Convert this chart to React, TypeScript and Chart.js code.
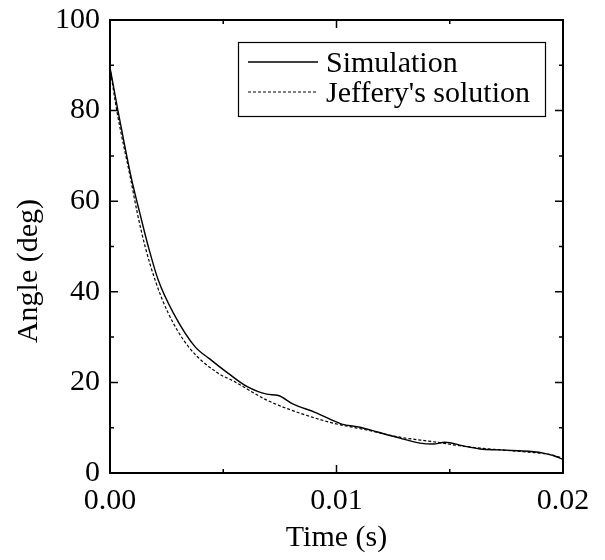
import React, { useEffect, useRef } from "react";
import { Chart, registerables } from "chart.js";

Chart.register(...registerables);

const simTime = [0, 0.00035, 0.0007, 0.00096, 0.00132, 0.00169, 0.00213, 0.0028, 0.00375, 0.0044, 0.00522, 0.00604, 0.00692, 0.00743, 0.00809, 0.00905, 0.01023, 0.01104, 0.01177, 0.0128, 0.01369, 0.01427, 0.01479, 0.0156, 0.01634, 0.01722, 0.018, 0.0187, 0.01913, 0.0196, 0.02];
const simAngle = [89.5, 80, 71, 64.7, 57.3, 50.0, 42.6, 35.3, 27.9, 25.2, 22.0, 19.1, 17.4, 17.1, 15.2, 13.4, 10.8, 10.1, 9.1, 7.7, 6.6, 6.4, 6.8, 6.0, 5.3, 5.1, 4.9, 4.7, 4.4, 3.8, 3.0];

const jefTime = [0, 0.0003, 0.00092, 0.00121, 0.00155, 0.00199, 0.00257, 0.00346, 0.00478, 0.00545, 0.00692, 0.00839, 0.00986, 0.01133, 0.0128, 0.01427, 0.01575, 0.01722, 0.0185, 0.0193, 0.02];
const jefAngle = [89.5, 80, 64.7, 57.3, 50.0, 42.6, 35.3, 27.9, 22.0, 20.3, 16.1, 13.2, 11.0, 9.5, 7.9, 6.9, 5.8, 5.1, 4.6, 4.2, 3.3];

const seriesLabels = ["Simulation", "Jeffery's solution"];
const xTickValues = [0, 0.01, 0.02];
const yTickValues = [0, 20, 40, 60, 80, 100];
const xTitle = "Time (s)";
const yTitle = "Angle (deg)";

const FONT = "'Liberation Serif', 'Times New Roman', serif";

const framePlugin = {
  id: "frameTicks",
  afterDraw(chart: any) {
    const { ctx, chartArea } = chart;
    const xs = chart.scales.x;
    const ys = chart.scales.y;
    const { left, right, top, bottom } = chartArea;
    ctx.save();
    ctx.strokeStyle = "#000";
    ctx.lineWidth = 2;
    ctx.strokeRect(left, top, right - left, bottom - top);
    ctx.lineWidth = 1.5;
    const major = 8;
    const minor = 4;
    const drawX = (v: number, len: number) => {
      const px = xs.getPixelForValue(v);
      ctx.beginPath();
      ctx.moveTo(px, bottom);
      ctx.lineTo(px, bottom - len);
      ctx.moveTo(px, top);
      ctx.lineTo(px, top + len);
      ctx.stroke();
    };
    const drawY = (v: number, len: number) => {
      const py = ys.getPixelForValue(v);
      ctx.beginPath();
      ctx.moveTo(left, py);
      ctx.lineTo(left + len, py);
      ctx.moveTo(right, py);
      ctx.lineTo(right - len, py);
      ctx.stroke();
    };
    for (let i = 0; i < xTickValues.length; i++) {
      drawX(xTickValues[i], major);
      if (i < xTickValues.length - 1) drawX((xTickValues[i] + xTickValues[i + 1]) / 2, minor);
    }
    for (let i = 0; i < yTickValues.length; i++) {
      drawY(yTickValues[i], major);
      if (i < yTickValues.length - 1) drawY((yTickValues[i] + yTickValues[i + 1]) / 2, minor);
    }

    // y axis title
    ctx.save();
    ctx.translate(29, 271);
    ctx.rotate(-Math.PI / 2);
    ctx.fillStyle = "#000";
    ctx.font = `30px ${FONT}`;
    ctx.textAlign = "center";
    ctx.textBaseline = "middle";
    ctx.fillText(yTitle, 0, 0);
    ctx.restore();

    // legend
    const bx = 238, by = 42, bw = 307, bh = 74;
    ctx.lineWidth = 1.2;
    ctx.strokeStyle = "#000";
    ctx.fillStyle = "#fff";
    ctx.fillRect(bx, by, bw, bh);
    ctx.strokeRect(bx + 0.5, by + 0.5, bw, bh);
    chart.data.datasets.forEach((ds: any, i: number) => {
      const ly = by + 20 + i * 30;
      ctx.beginPath();
      ctx.setLineDash(ds.borderDash || []);
      ctx.lineWidth = ds.borderWidth;
      ctx.moveTo(bx + 10, ly);
      ctx.lineTo(bx + 80, ly);
      ctx.stroke();
      ctx.setLineDash([]);
      ctx.fillStyle = "#000";
      ctx.font = `30px ${FONT}`;
      ctx.textBaseline = "alphabetic";
      ctx.textAlign = "left";
      ctx.fillText(ds.label, bx + 88, ly + 10);
    });
    ctx.restore();
  },
};

export default function App() {
  const ref = useRef<HTMLCanvasElement>(null);
  useEffect(() => {
    if (!ref.current) return;
    const chart = new Chart(ref.current, {
      type: "line",
      data: {
        datasets: [
          {
            label: seriesLabels[0],
            data: simTime.map((t, i) => ({ x: t, y: simAngle[i] })),
            borderColor: "#000",
            borderWidth: 1.4,
            pointRadius: 0,
            cubicInterpolationMode: "monotone",
            fill: false,
          },
          {
            label: seriesLabels[1],
            data: jefTime.map((t, i) => ({ x: t, y: jefAngle[i] })),
            borderColor: "#000",
            borderWidth: 1.2,
            borderDash: [3, 2],
            pointRadius: 0,
            cubicInterpolationMode: "monotone",
            fill: false,
          },
        ],
      },
      options: {
        responsive: false,
        animation: false,
        layout: { padding: { top: 20, right: 42, left: 0, bottom: 0 } },
        plugins: { legend: { display: false }, tooltip: { enabled: false } },
        scales: {
          x: {
            type: "linear",
            min: 0,
            max: 0.02,
            afterBuildTicks: (s: any) => {
              s.ticks = xTickValues.map((v) => ({ value: v }));
            },
            afterFit: (s: any) => {
              s.height = 87;
              s.paddingRight = 0;
              s.paddingLeft = 0;
            },
            grid: { display: false, drawTicks: false },
            border: { display: false },
            ticks: {
              color: "#000",
              font: { family: FONT, size: 30 },
              padding: 10,
              maxRotation: 0,
              callback: (v: any) => Number(v).toFixed(2),
            },
            title: {
              display: true,
              text: xTitle,
              color: "#000",
              font: { family: FONT, size: 30 },
              padding: { top: 0, bottom: 4 },
            },
          },
          y: {
            type: "linear",
            min: 0,
            max: 100,
            afterBuildTicks: (s: any) => {
              s.ticks = yTickValues.map((v) => ({ value: v }));
            },
            afterFit: (s: any) => {
              s.width = 110;
              s.paddingTop = 0;
              s.paddingBottom = 0;
            },
            grid: { display: false, drawTicks: false },
            border: { display: false },
            ticks: {
              color: "#000",
              font: { family: FONT, size: 30 },
              padding: 10,
            },
            title: { display: false, text: yTitle },
          },
        },
      },
      plugins: [framePlugin],
    } as any);
    return () => chart.destroy();
  }, []);
  return (
    <canvas
      ref={ref}
      width={605}
      height={560}
      style={{ position: "fixed", left: 0, top: 0, width: 605, height: 560, background: "#fff" }}
    />
  );
}
